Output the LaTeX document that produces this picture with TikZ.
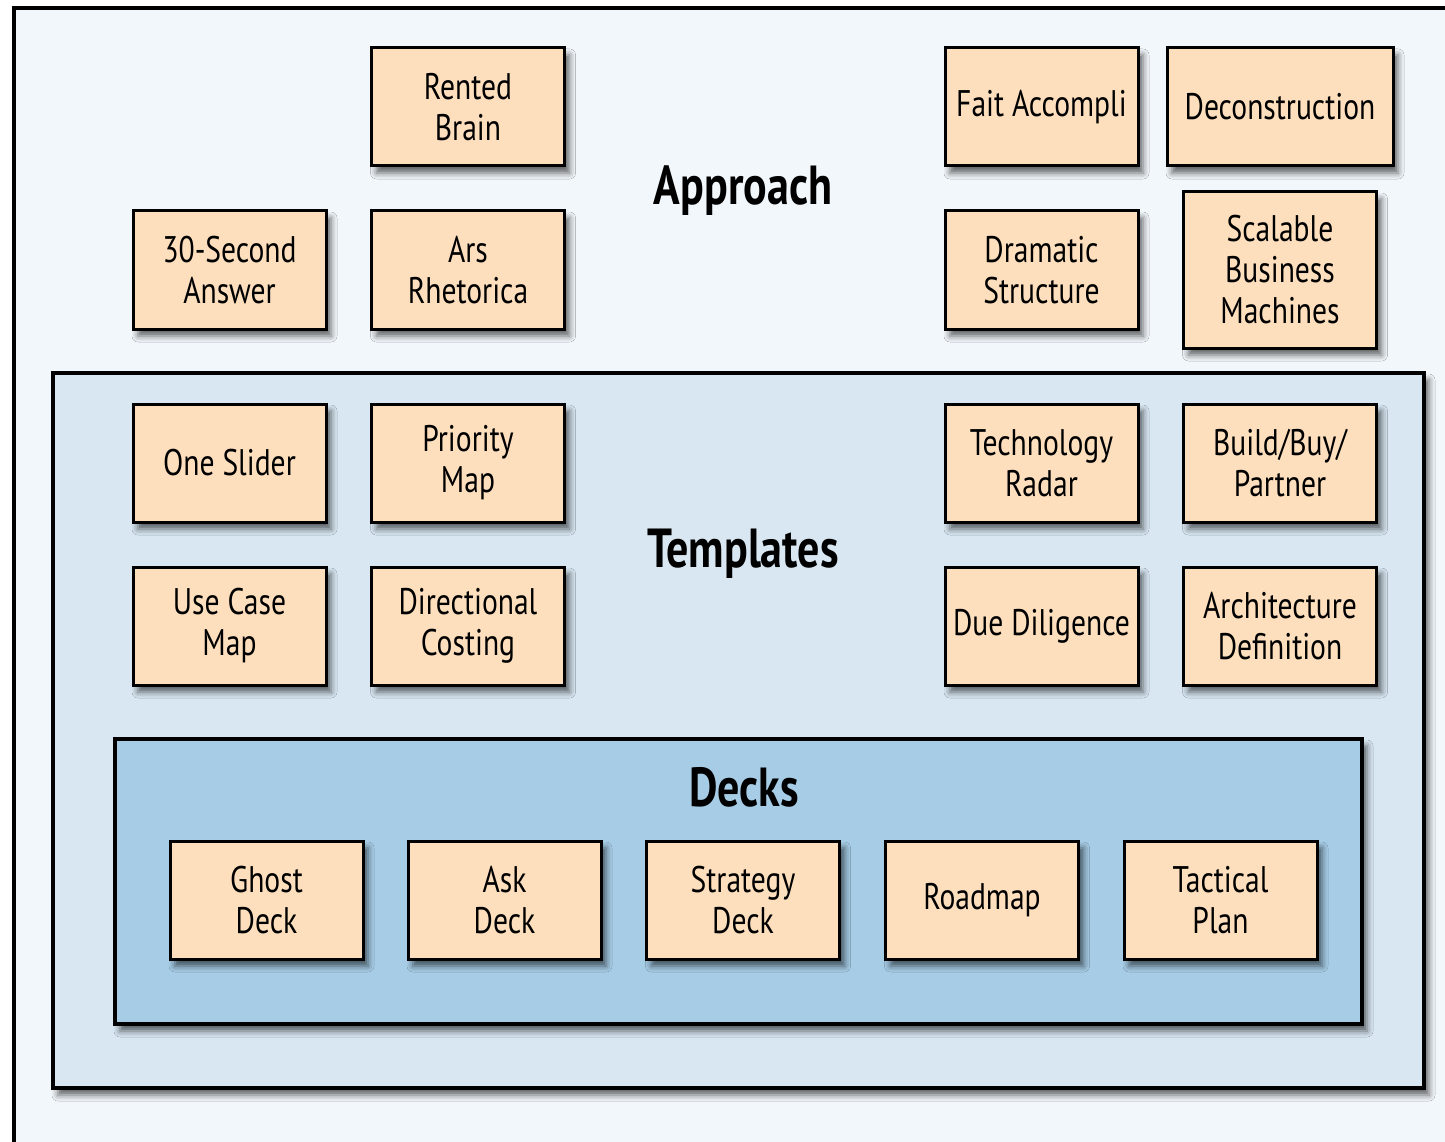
\documentclass[tikz,border=0pt]{standalone}
\usepackage{fontspec}
\setmainfont{PT Sans}[FakeStretch=0.80]
\usetikzlibrary{shadows.blur}
\definecolor{pagefill}{HTML}{F2F7FB}
\definecolor{tplfill}{HTML}{D8E7F2}
\definecolor{deckfill}{HTML}{A6CCE6}
\definecolor{cardfill}{HTML}{FDDFBE}
\tikzset{
  softshadow/.style={blur shadow={shadow xshift=5pt, shadow yshift=-7pt, shadow blur radius=6pt, shadow opacity=60}},
  card/.style={draw=black, line width=3pt, fill=cardfill, softshadow, align=center,
    inner sep=0pt, minimum width=193pt, minimum height=118pt,
    font=\fontsize{37}{41}\selectfont},
  layer/.style={draw=black, line width=3.5pt, softshadow},
  heading/.style={font=\fontsize{55}{58}\selectfont\bfseries}
}
\begin{document}
\begin{tikzpicture}[x=1pt,y=-1pt]
\useasboundingbox (0,0) rectangle (1445,1142);
\fill[white] (0,0) rectangle (1445,1142);
% outer frame (runs off the right and bottom edges)
\draw[line width=4pt, fill=pagefill] (14,8) rectangle (1470,1170);

% nested layers
\draw[layer, fill=tplfill] (53,373) rectangle (1424,1088);
\draw[layer, fill=deckfill] (115,739) rectangle (1362,1024);

% headings
\node[heading] (approach) at (743,191) {Approach};
\node[heading] (templates) at (743,554) {Templates};
\node[heading] (decks) at (744,787) {Decks};

% Approach
\node[card] (rented) at (468,107) {Rented\\Brain};
\node[card] (thirty) at (229.5,270) {30-Second\\Answer};
\node[card] (ars) at (468,270) {Ars\\Rhetorica};
\node[card] (fait) at (1041.5,107) {Fait Accompli};
\node[card, minimum width=226pt] (decon) at (1280,107) {Deconstruction};
\node[card] (dramatic) at (1041.5,270) {Dramatic\\Structure};
\node[card, minimum height=156pt] (scalable) at (1280,270) {Scalable\\Business\\Machines};

% Templates
\node[card] (oneslider) at (229.5,463) {One Slider};
\node[card] (priority) at (468,463) {Priority\\Map};
\node[card] (radar) at (1041.5,463) {Technology\\Radar};
\node[card] (buildbuy) at (1280,463) {Build/Buy/\\Partner};
\node[card] (usecase) at (229.5,626) {Use Case\\Map};
\node[card] (costing) at (468,626) {Directional\\Costing};
\node[card] (diligence) at (1041.5,626) {Due Diligence};
\node[card] (archdef) at (1280,626) {Architecture\\Definition};

% Decks
\node[card] (ghost) at (266.5,900) {Ghost\\Deck};
\node[card] (ask) at (504.5,900) {Ask\\Deck};
\node[card] (strategy) at (743,900) {Strategy\\Deck};
\node[card] (roadmap) at (982,900) {Roadmap};
\node[card] (tactical) at (1220.5,900) {Tactical\\Plan};
\end{tikzpicture}
\end{document}
